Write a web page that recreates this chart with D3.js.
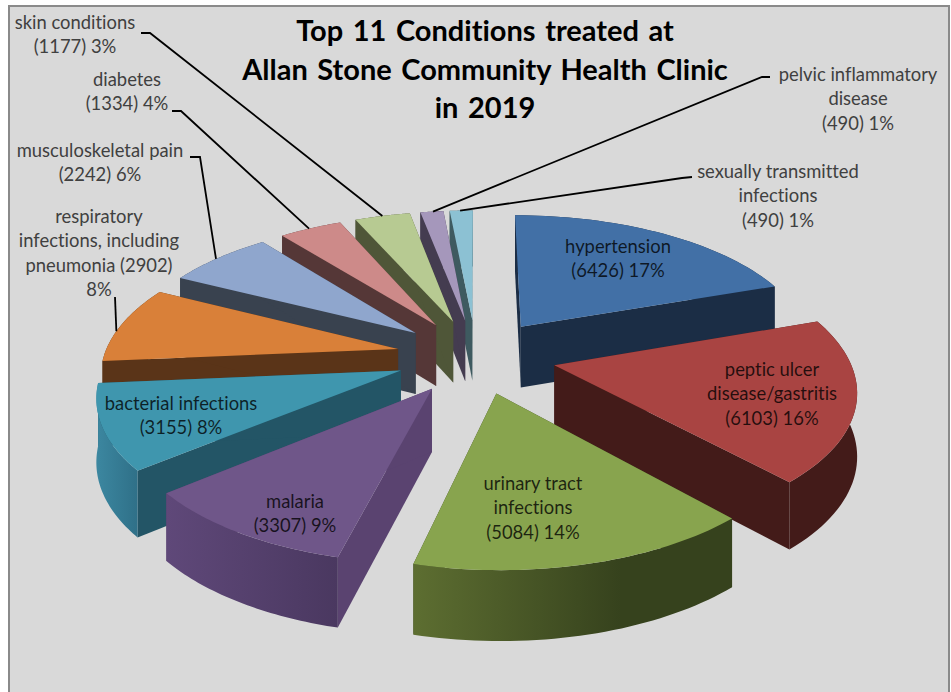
<!DOCTYPE html>
<html>
<head>
<meta charset="utf-8">
<script src="https://cdn.jsdelivr.net/npm/d3@7/dist/d3.min.js"></script>
<style>
html,body{margin:0;padding:0;background:#fff;overflow:hidden}
svg{display:block}
text{font-variant-ligatures:none}
</style>
</head>
<body>
<script>
// ---- data ----
const conditions = ["hypertension","peptic ulcer disease/gastritis","urinary tract infections","malaria","bacterial infections","respiratory infections, including pneumonia","musculoskeletal pain","diabetes","skin conditions","pelvic inflammatory disease","sexually transmitted infections"];
const cases = [6426,6103,5084,3307,3155,2902,2242,1334,1177,490,490];
const percents = [17,16,14,9,8,8,6,4,3,1,1];
const titleLines = ["Top 11 Conditions treated at","Allan Stone Community Health Clinic","in 2019"];
const labelLines = [
 ["hypertension","(6426) 17%"],
 ["peptic ulcer","disease/gastritis","(6103) 16%"],
 ["urinary tract","infections","(5084) 14%"],
 ["malaria","(3307) 9%"],
 ["bacterial infections","(3155) 8%"],
 ["respiratory","infections, including","pneumonia (2902)","8%"],
 ["musculoskeletal pain","(2242) 6%"],
 ["diabetes","(1334) 4%"],
 ["skin conditions","(1177) 3%"],
 ["pelvic inflammatory","disease","(490) 1%"],
 ["sexually transmitted","infections","(490) 1%"]
];
// ---- styles ----
const topColors  = ["#4270a6","#a94442","#88a44e","#6f5689","#3f96ae","#d98039","#8fa6cd","#cd8a89","#b7ca92","#a597bb","#8cc1d3"];
const edgeColors = ["#1b2d45","#431b19","#36421d","#5a4370","#235566","#5a3418","#39424f","#553737","#4f5638","#443c50","#3e5a60"];
const rimLeft    = ["#1b2d45","#431b19","#5d6e31","#5f4879","#3c87a0","#5a3418","#39424f","#553737","#4f5638","#443c50","#3e5a60"];
const rimRight   = ["#1b2d45","#431b19","#36421d","#4a3860","#2f7088","#5a3418","#39424f","#553737","#4f5638","#443c50","#3e5a60"];
// label layout: centre x, first line centre y; outside labels have a leader [stub start, elbow]
const labelPos = [[618,247],[772,370],[533,484],[295,502],[181,404],[99,217],[100,151],[127,80],[75,23],[858,75],[778,172]];
const leaders = {5:[[115,297],[115,297]],6:[[190,157],[200,157]],7:[[172,111],[181,111]],8:[[141,33],[150,33]],9:[[770,77],[762,77]],10:[[692,177],[682,178]]};
const leaderFrac = {5:0.40,6:0.48,7:0.48,8:0.5,9:0.55,10:0.45};

// ---- geometry ----
const W=951,H=692,cx=476,cy=356,R=294,explode=80,tilt=0.465,persp=0.00052,depth=62;
const svg=d3.select("body").append("svg").attr("width",W).attr("height",H)
  .style("font-family","Lato, 'Open Sans', sans-serif");
const defs=svg.append("defs");

svg.append("rect").attr("x",9).attr("y",6).attr("width",940).attr("height",H+20)
  .attr("fill","#d9d9d9").attr("stroke","#8a8a8a").attr("stroke-width",2);

const arcs=d3.pie().sort(null).startAngle(0).endAngle(2*Math.PI)(cases);
function ground(mid,a,r){ // world coords of a point in an exploded slice
  return [explode*Math.sin(mid)+r*Math.sin(a), -explode*Math.cos(mid)-r*Math.cos(a)];
}
function project(p,z){
  const s=1/(1-persp*p[1]);
  return [cx+p[0]*s, cy+tilt*p[1]*s+z*depth*(1+(s-1)*0.6)];
}
const line=d3.line();
const slices=arcs.map((d,i)=>{
  const mid=(d.startAngle+d.endAngle)/2;
  const angs=d3.range(0,41).map(t=>d.startAngle+(d.endAngle-d.startAngle)*t/40);
  const apex=ground(mid,mid,0);
  const rim=angs.map(a=>ground(mid,a,R));
  return {i,mid,apex,rim,key:ground(mid,mid,R*0.5)[1],d};
});
slices.slice().sort((a,b)=>a.key-b.key).forEach(s=>{
  const i=s.i, g=svg.append("g").attr("class","slice").attr("data-name",conditions[i]).attr("data-value",cases[i]);
  const top=s.rim.map(p=>project(p,0)), bot=s.rim.map(p=>project(p,1));
  const a0=project(s.apex,0), a1=project(s.apex,1);
  const quad=(a,b,c,e)=>line([a,b,c,e])+"Z";
  g.append("path").attr("d",quad(a0,top[0],bot[0],a1)).attr("fill",edgeColors[i]);
  g.append("path").attr("d",quad(a0,top[top.length-1],bot[bot.length-1],a1)).attr("fill",edgeColors[i]);
  const xs=top.map(p=>p[0]);
  const gid="rim"+i;
  const lg=defs.append("linearGradient").attr("id",gid).attr("gradientUnits","userSpaceOnUse")
    .attr("x1",d3.min(xs)).attr("x2",d3.max(xs)).attr("y1",0).attr("y2",0);
  const rev=i===2||i===3?[[0,rimLeft[i]],[i===2?0.65:1,rimRight[i]],[1,rimRight[i]]]:[[0,rimLeft[i]],[1,rimRight[i]]];
  rev.forEach(t=>lg.append("stop").attr("offset",t[0]).attr("stop-color",t[1]));
  g.append("path").attr("d",line(top.concat(bot.slice().reverse()))+"Z").attr("fill",`url(#${gid})`);
  g.append("path").attr("d",line([a0].concat(top))+"Z").attr("fill",topColors[i]);
});

// ---- leaders ----
Object.keys(leaders).forEach(k=>{
  const s=slices[k], idx=Math.round(leaderFrac[k]*(s.rim.length-1));
  const end=project(s.rim[idx],0);
  const pts=leaders[k].concat([end]);
  svg.append("path").attr("d",line(pts)).attr("fill","none").attr("stroke","#000").attr("stroke-width",1.8);
});

// ---- labels ----
const lineStep=24.4;
labelLines.forEach((lines,i)=>{
  const inside=i<5;
  const t=svg.append("text").attr("text-anchor","middle").attr("font-size",18.4)
    .attr("fill",inside?"#000":"#404040").attr("fill-opacity",inside?0.78:1);
  lines.forEach((l,j)=>{
    t.append("tspan").attr("x",labelPos[i][0]).attr("y",labelPos[i][1]+j*lineStep+6).text(l);
  });
});
titleLines.forEach((l,j)=>{
  svg.append("text").attr("x",485).attr("y",41+j*38.7).attr("text-anchor","middle")
    .attr("font-size",29).attr("font-weight",700).attr("word-spacing",2.5).attr("fill","#000").text(l);
});
</script>
</body>
</html>
